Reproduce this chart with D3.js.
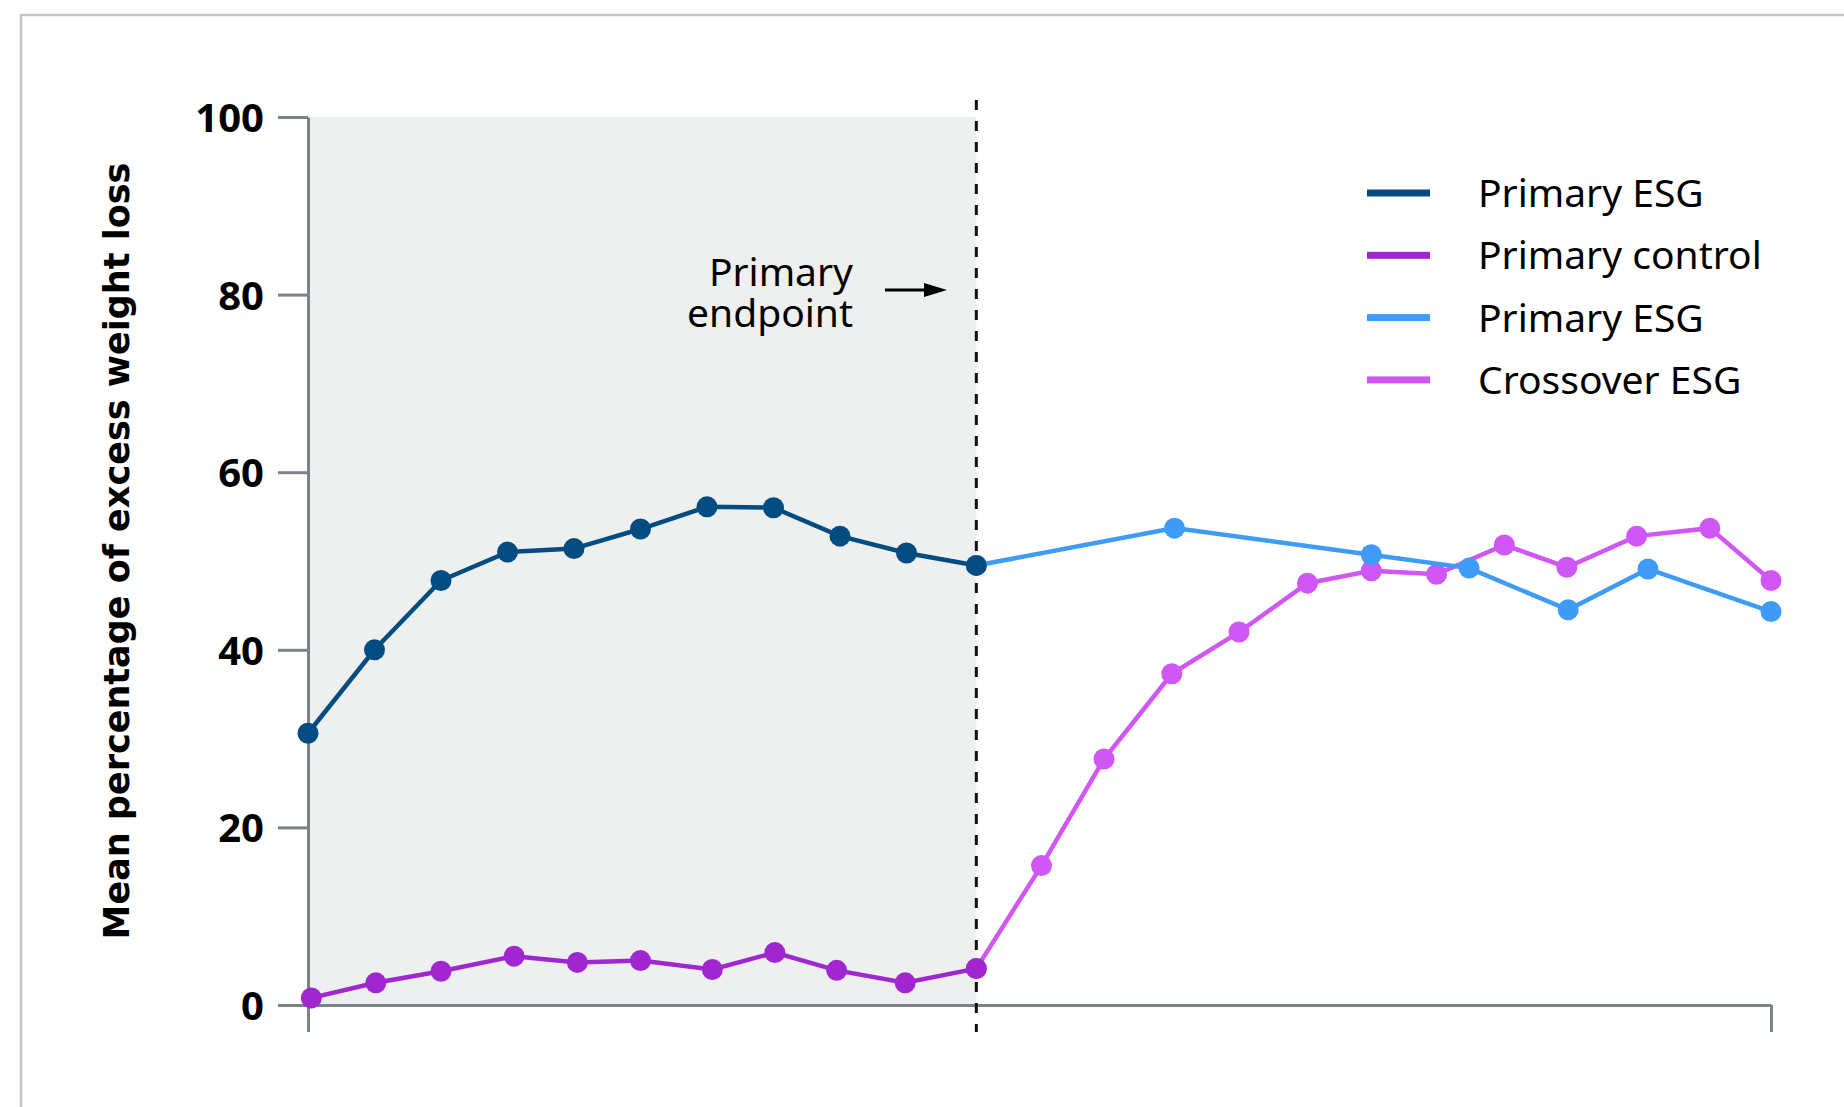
<html><head>
    <script src="https://d3js.org/d3.v7.min.js"></script>
    <style>
      body { margin: 0; background: #fff; }
      .axis path, .axis line { stroke: #7d8286; stroke-width: 3px; }
      .axis text { font-family: "Noto Sans"; font-weight: bold; font-size: 40px; fill: #000; }
      .label { font-family: "Noto Sans"; font-size: 39px; fill: #000; }
    </style>
  </head>
  <body>
    <script>
        //Data (x = time units along the axis, y = mean % excess weight loss)
        const primaryEsgX = [0, 1, 2, 3, 4, 5, 6, 7, 8, 9, 10.05]
        const primaryEsgY = [30.6, 40.0, 47.8, 51.0, 51.4, 53.6, 56.1, 56.0, 52.8, 50.9, 49.5]

        const controlX = [0.05, 1.02, 2.0, 3.1, 4.05, 5.0, 6.08, 7.02, 7.95, 8.98, 10.05]
        const controlY = [0.8, 2.5, 3.8, 5.5, 4.8, 5.0, 4.0, 5.9, 3.9, 2.5, 4.1]

        const lateEsgX = [10.05, 13.03, 15.99, 17.46, 18.95, 20.15, 22]
        const lateEsgY = [49.5, 53.7, 50.7, 49.2, 44.5, 49.1, 44.3]

        const crossoverX = [10.05, 11.03, 11.97, 12.99, 14.0, 15.03, 15.99, 16.97, 17.99, 18.93, 19.98, 21.08, 22]
        const crossoverY = [4.1, 15.7, 27.7, 37.3, 42.0, 47.5, 48.9, 48.5, 51.8, 49.3, 52.8, 53.7, 47.8]

        const yTicks = [0, 20, 40, 60, 80, 100]
        const legendNames = ["Primary ESG", "Primary control", "Primary ESG", "Crossover ESG"]
        const legendColors = ["#034c81", "#a027d0", "#3e9bf8", "#d156f6"]
        const endpointX = 10.05

        //SVG
        const svg = d3.select("body").append("svg")
                      .attr("width", 1844)
                      .attr("height", 1107)

        //frame
        svg.append("rect")
           .attr("x", 21).attr("y", 15)
           .attr("width", 2000).attr("height", 2000)
           .style("fill", "none")
           .style("stroke", "#c3c5c8")
           .style("stroke-width", 2.5)

        //Scales
        const xScale = d3.scaleLinear().domain([0, 22]).range([308, 1771])
        const yScale = d3.scaleLinear().domain([0, 100]).range([1005, 117])

        //shaded primary period
        svg.append("rect")
           .attr("x", xScale(0))
           .attr("y", yScale(100))
           .attr("width", xScale(endpointX) - xScale(0))
           .attr("height", yScale(0) - yScale(100))
           .style("fill", "#eef0ef")

        //Axes
        const yAxis = d3.axisLeft(yScale).tickValues(yTicks).tickSize(30).tickPadding(14).tickSizeOuter(0)
        svg.append("g").attr("class", "axis")
           .attr("transform", "translate(" + xScale(0) + ",0)")
           .call(yAxis)
           .selectAll("text").attr("dy", "0.36em")

        const xAxis = d3.axisBottom(xScale).tickValues([0, 22]).tickSize(27).tickFormat("").tickSizeOuter(0)
        svg.append("g").attr("class", "axis")
           .attr("transform", "translate(0," + yScale(0) + ")")
           .call(xAxis)

        //y title
        svg.append("text")
           .attr("transform", "translate(129,551) rotate(-90)")
           .attr("text-anchor", "middle")
           .style("font-family", "DejaVu Sans")
           .style("font-weight", "bold")
           .style("font-size", "35px")
           .text("Mean percentage of excess weight loss")

        //endpoint dashed line
        svg.append("line")
           .attr("x1", xScale(endpointX)).attr("x2", xScale(endpointX))
           .attr("y1", 100).attr("y2", 1032)
           .style("stroke", "#111")
           .style("stroke-width", 3)
           .style("stroke-dasharray", "10,11")

        //annotation
        const note = svg.append("text").attr("class", "label").attr("text-anchor", "end")
        note.append("tspan").attr("x", 853).attr("y", 286).text("Primary")
        note.append("tspan").attr("x", 853).attr("y", 327).text("endpoint")

        svg.append("line")
           .attr("x1", 885).attr("x2", 928)
           .attr("y1", 290).attr("y2", 290)
           .style("stroke", "#000").style("stroke-width", 3)
        svg.append("path")
           .attr("d", "M924,283 L947,290 L924,297 Z")
           .style("fill", "#000")

        //Series
        const series = [
          {xs: crossoverX, ys: crossoverY, color: legendColors[3]},
          {xs: lateEsgX, ys: lateEsgY, color: legendColors[2]},
          {xs: controlX, ys: controlY, color: legendColors[1]},
          {xs: primaryEsgX, ys: primaryEsgY, color: legendColors[0]}
        ]

        const line = d3.line().x(d => xScale(d[0])).y(d => yScale(d[1]))

        series.forEach(s => {
          const pts = s.xs.map((x, i) => [x, s.ys[i]])
          const g = svg.append("g")
          g.append("path").datum(pts)
           .attr("d", line)
           .style("fill", "none")
           .style("stroke", s.color)
           .style("stroke-width", 4.5)
          g.selectAll("circle").data(pts)
           .join("circle")
           .attr("cx", d => xScale(d[0]))
           .attr("cy", d => yScale(d[1]))
           .attr("r", 10.5)
           .style("fill", s.color)
        })

        //Legend
        const legend = svg.append("g").attr("transform", "translate(1367,193)")
        legendNames.forEach((name, i) => {
          legend.append("rect")
                .attr("x", 0).attr("y", i * 62.3 - 3.5)
                .attr("width", 63).attr("height", 7)
                .style("fill", legendColors[i])
          legend.append("text").attr("class", "label")
                .attr("x", 111).attr("y", i * 62.3)
                .attr("dy", "0.36em")
                .text(name)
        })
    </script>
  </body></html>
